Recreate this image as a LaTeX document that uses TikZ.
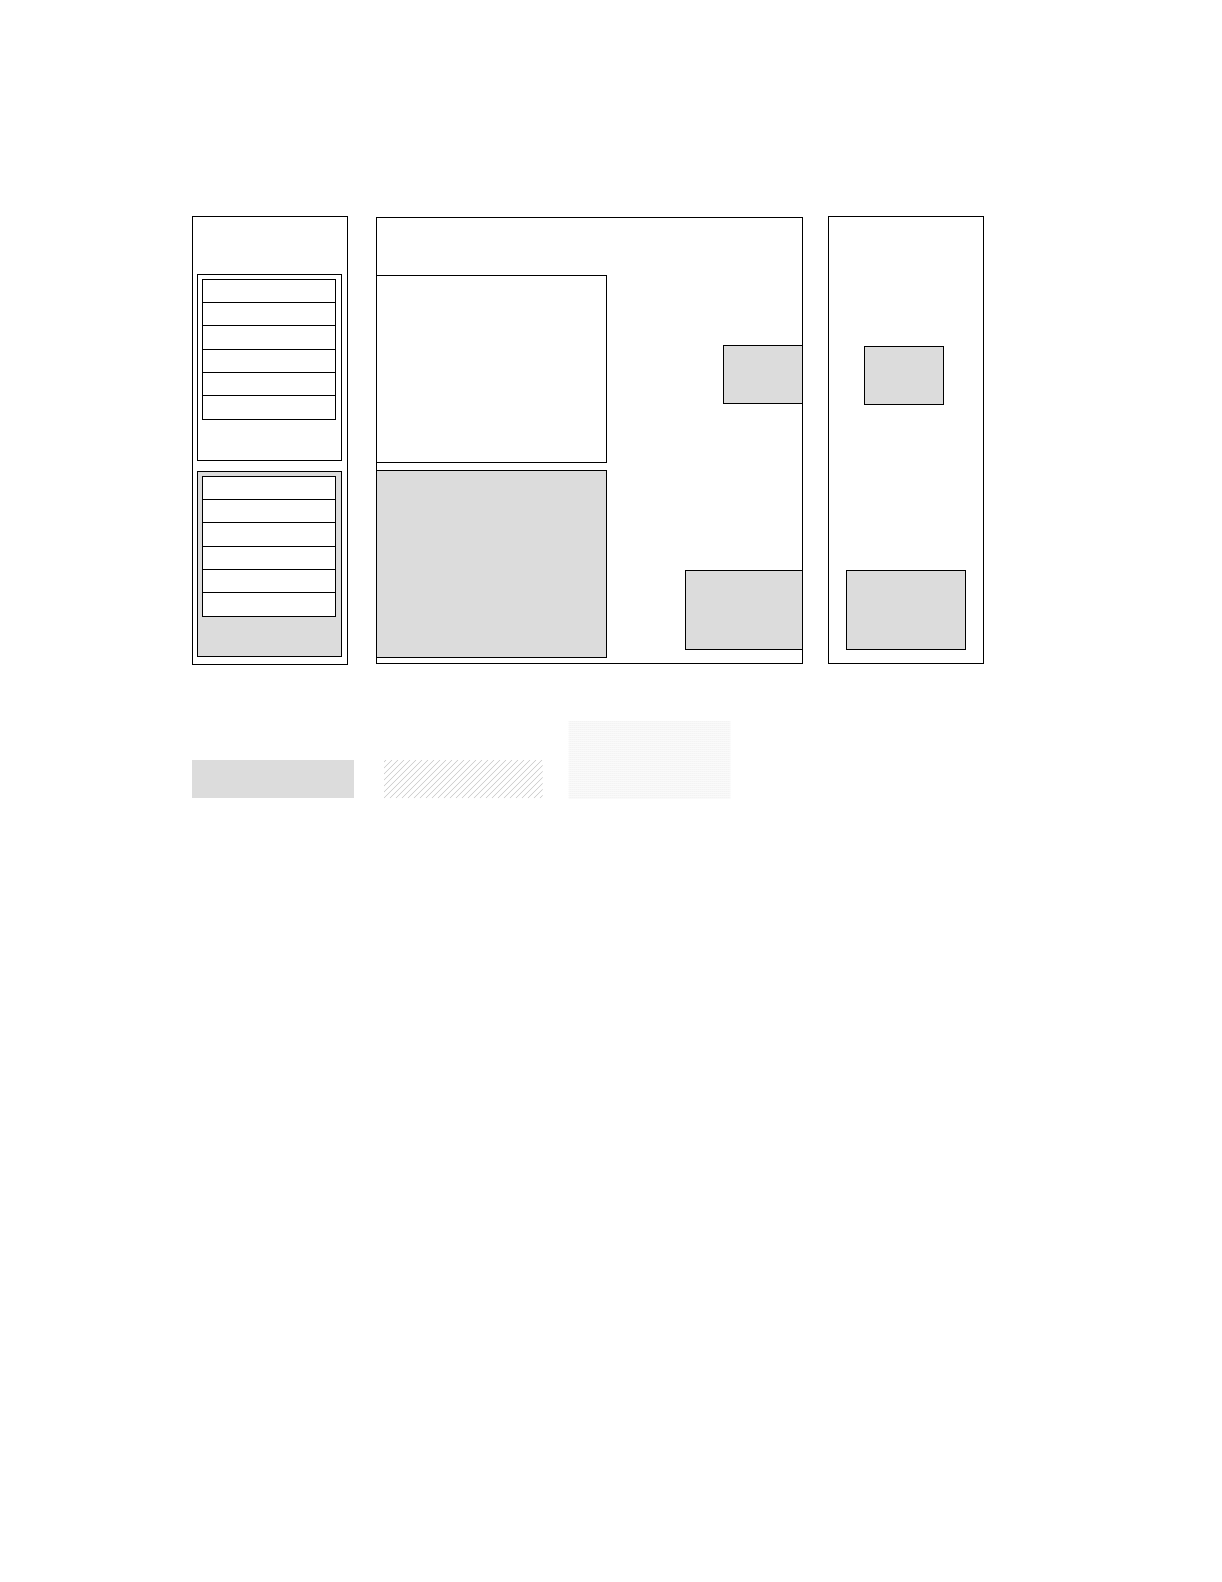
\documentclass[tikz,border=0pt]{standalone}
\usetikzlibrary{patterns,patterns.meta}
\definecolor{boxgray}{RGB}{220,220,220}
\definecolor{hatchgray}{RGB}{200,200,200}
\definecolor{dotgray}{RGB}{205,205,205}
\tikzset{
  frame/.style={draw=black,line width=1pt},
  grayframe/.style={draw=black,line width=1pt,fill=boxgray},
  rowbox/.style={draw=black,line width=1pt,fill=white},
}
\begin{document}
\begin{tikzpicture}[x=1pt,y=-1pt]
\useasboundingbox[fill=white] (0,0) rectangle (1222,1582);
% left column
\draw[frame] (192.3,216) rectangle (347.3,664.3);
\draw[frame,fill=white] (197.3,274) rectangle (341.7,460.3);
\foreach \i in {0,...,5}{
  \draw[rowbox] (202.3,{279.3+23.333*\i}) rectangle (335.3,{279.3+23.333*(\i+1)});
}
\draw[grayframe] (197.3,471.3) rectangle (341.7,656.3);
\foreach \i in {0,...,5}{
  \draw[rowbox] (202.3,{476.3+23.333*\i}) rectangle (335.3,{476.3+23.333*(\i+1)});
}
% main box
\draw[frame] (376.3,217.3) rectangle (802.3,663.3);
\draw[frame,fill=white] (376.3,275.3) rectangle (606.3,462.3);
\draw[grayframe] (376.3,470.3) rectangle (606.3,657.3);
\draw[grayframe] (723.3,345.3) rectangle (802.3,403.3);
\draw[grayframe] (685.3,570.3) rectangle (802.3,649.3);
% right column
\draw[frame] (828.3,216) rectangle (983.7,663.7);
\draw[grayframe] (864.3,346.3) rectangle (943.7,404.3);
\draw[grayframe] (846.3,570.3) rectangle (965.3,649.3);
% legend
\fill[boxgray] (192,760) rectangle (354,797.7);
\begin{scope}
\clip (384,760) rectangle (542.7,798);
\foreach \k in {-8,...,30}{
  \draw[hatchgray,line width=0.6pt] ({384+6*\k},798) -- ({384+6*\k+38},760);
}
\end{scope}
\fill[pattern={Dots[distance=2pt,radius=0.5pt]},pattern color=dotgray] (568.3,721.7) rectangle (730,798.3);
\end{tikzpicture}
\end{document}
